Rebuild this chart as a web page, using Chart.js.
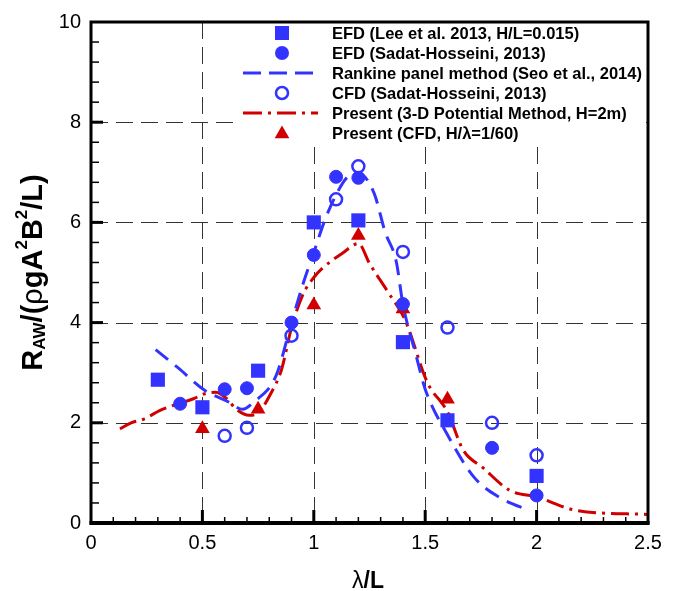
<!DOCTYPE html>
<html><head><meta charset="utf-8">
<script src="https://cdn.jsdelivr.net/npm/chart.js@4.4.0/dist/chart.umd.min.js"></script>
<style>html,body{margin:0;padding:0;background:#fff;}#wrap{width:692px;height:591px;}</style>
</head><body><div id="wrap"><canvas id="c" width="692" height="591"></canvas></div>
<script>
// ---- data ----
const xTickLabels = ['0','0.5','1','1.5','2','2.5'];
const yTickLabels = ['0','2','4','6','8','10'];

const legendLabels = [
  'EFD (Lee et al. 2013, H/L=0.015)',
  'EFD (Sadat-Hosseini, 2013)',
  'Rankine panel method (Seo et al., 2014)',
  'CFD (Sadat-Hosseini, 2013)',
  'Present (3-D Potential Method, H=2m)',
  'Present (CFD, H/\u03bb=1/60)'
];

const leeX = [0.3, 0.5, 0.75, 1.0, 1.2, 1.4, 1.6, 2.0];
const leeY = [2.86, 2.31, 3.04, 6.0, 6.04, 3.61, 2.05, 0.94];

const sadatEfdX = [0.4, 0.6, 0.7, 0.9, 1.0, 1.1, 1.2, 1.4, 1.8, 2.0];
const sadatEfdY = [2.38, 2.67, 2.69, 4.0, 5.35, 6.91, 6.89, 4.37, 1.50, 0.55];

const rankineX = [0.29, 0.39, 0.51, 0.62, 0.68, 0.74, 0.81, 0.84, 0.9, 0.95, 1.0, 1.05, 1.1, 1.15, 1.2, 1.27, 1.32, 1.37, 1.4, 1.46, 1.5, 1.6, 1.72, 1.83, 1.95, 1.97];
const rankineY = [3.46, 3.10, 2.65, 2.41, 2.27, 2.45, 2.76, 3.05, 4.0, 4.75, 5.4, 6.05, 6.55, 6.9, 6.98, 6.59, 5.81, 5.22, 4.37, 3.33, 2.67, 1.76, 0.91, 0.52, 0.28, 0.25];

const sadatCfdX = [0.6, 0.7, 0.9, 1.1, 1.2, 1.4, 1.6, 1.8, 2.0];
const sadatCfdY = [1.74, 1.90, 3.74, 6.46, 7.12, 5.41, 3.90, 2.0, 1.35];

const potentialX = [0.13, 0.18, 0.24, 0.31, 0.385, 0.46, 0.51, 0.56, 0.61, 0.65, 0.71, 0.75, 0.81, 0.855, 0.9, 0.95, 1.0, 1.04, 1.13, 1.2, 1.25, 1.33, 1.41, 1.51, 1.6, 1.67, 1.76, 1.88, 2.0, 2.18, 2.5];
const potentialY = [1.88, 2.0, 2.08, 2.25, 2.37, 2.48, 2.58, 2.61, 2.48, 2.28, 2.15, 2.2, 2.61, 3.06, 3.9, 4.55, 4.9, 5.09, 5.39, 5.58, 5.18, 4.63, 4.05, 2.8, 2.22, 1.46, 1.1, 0.65, 0.52, 0.25, 0.17];

const presentCfdX = [0.5, 0.75, 1.0, 1.2, 1.4, 1.6];
const presentCfdY = [1.88, 2.27, 4.35, 5.74, 4.27, 2.47];

const BLUE = '#3333ff';
const RED = '#d00000';

const pts = (xs, ys) => xs.map((x, i) => ({x: x, y: ys[i]}));

// ---- custom drawing of frame, ticks, legend, titles ----
const FONT = '"Liberation Sans", Arial, sans-serif';
const decor = {
  id: 'decor',
  beforeDatasetsDraw(chart) {
    const ctx = chart.ctx, a = chart.chartArea;
    const xs = chart.scales.x, ys = chart.scales.y;
    ctx.save();
    ctx.strokeStyle = '#333';
    ctx.lineWidth = 1;
    ctx.setLineDash([17, 8]);
    xs.ticks.forEach(t => {
      if (t.value <= xs.min || t.value >= xs.max) return;
      const px = Math.round(xs.getPixelForValue(t.value)) + 0.5;
      ctx.beginPath(); ctx.moveTo(px, a.top); ctx.lineTo(px, a.bottom); ctx.stroke();
    });
    ys.ticks.forEach(t => {
      if (t.value <= ys.min || t.value >= ys.max) return;
      const py = Math.round(ys.getPixelForValue(t.value)) + 0.5;
      ctx.beginPath(); ctx.moveTo(a.left, py); ctx.lineTo(a.right, py); ctx.stroke();
    });
    ctx.setLineDash([]);
    // legend background
    ctx.fillStyle = '#fff';
    ctx.fillRect(238, 17, 408, 125);
    ctx.restore();
  },
  afterDatasetsDraw(chart) {
    const ctx = chart.ctx, a = chart.chartArea;
    const xs = chart.scales.x, ys = chart.scales.y;
    ctx.save();
    ctx.strokeStyle = '#000';
    for (let i = 1; i < 25; i++) {
      const v = i / 10;
      const px = xs.getPixelForValue(v);
      const major = (i % 5 === 0);
      ctx.lineWidth = major ? 3 : 1.5;
      ctx.beginPath(); ctx.moveTo(px, a.bottom); ctx.lineTo(px, a.bottom - (major ? 13 : 6)); ctx.stroke();
    }
    for (let i = 1; i < 25; i++) {
      const v = i * 0.4;
      const py = ys.getPixelForValue(v);
      const major = (i % 5 === 0);
      ctx.lineWidth = major ? 3 : 1.5;
      ctx.beginPath(); ctx.moveTo(a.left, py); ctx.lineTo(a.left + (major ? 12 : 8), py); ctx.stroke();
    }
    ctx.lineWidth = 3;
    ctx.strokeRect(a.left, a.top, a.right - a.left, a.bottom - a.top);
    ctx.lineWidth = 4;
    ctx.beginPath(); ctx.moveTo(a.left - 1.5, a.bottom); ctx.lineTo(a.right + 1.5, a.bottom); ctx.stroke();

    // legend
    const ref = 'Rankine panel method (Seo et al., 2014)';
    ctx.font = 'bold 16px ' + FONT;
    const fs = 16 * 310 / ctx.measureText(ref).width;
    ctx.font = 'bold ' + fs.toFixed(2) + 'px ' + FONT;
    ctx.fillStyle = '#000';
    ctx.textBaseline = 'middle';
    ctx.textAlign = 'left';
    const rows = [33, 53, 73, 93, 113, 133];
    const sx = 282, tx = 332;
    legendLabels.forEach((l, i) => ctx.fillText(l, tx, rows[i] + 1));
    ctx.fillStyle = BLUE;
    ctx.fillRect(sx - 7, rows[0] - 7, 14, 14);
    ctx.beginPath(); ctx.arc(sx, rows[1], 7, 0, Math.PI * 2); ctx.fill();
    ctx.strokeStyle = BLUE; ctx.lineWidth = 3; ctx.setLineDash([18, 8]);
    ctx.beginPath(); ctx.moveTo(243, rows[2]); ctx.lineTo(318, rows[2]); ctx.stroke();
    ctx.setLineDash([]); ctx.lineWidth = 2.5;
    ctx.beginPath(); ctx.arc(sx, rows[3], 6, 0, Math.PI * 2); ctx.stroke();
    ctx.strokeStyle = RED; ctx.lineWidth = 3; ctx.setLineDash([19, 6, 3, 6]);
    ctx.beginPath(); ctx.moveTo(243, rows[4]); ctx.lineTo(318, rows[4]); ctx.stroke();
    ctx.setLineDash([]);
    ctx.fillStyle = RED;
    const r = 8.5, cy = rows[5] + 1;
    ctx.beginPath();
    ctx.moveTo(sx, cy - r);
    ctx.lineTo(sx + r * Math.sin(2 * Math.PI / 3), cy + r * 0.5);
    ctx.lineTo(sx - r * Math.sin(2 * Math.PI / 3), cy + r * 0.5);
    ctx.closePath(); ctx.fill();
    ctx.restore();
  },
  afterDraw(chart) {
    const ctx = chart.ctx, a = chart.chartArea;
    ctx.save();
    ctx.fillStyle = '#000';
    ctx.textBaseline = 'alphabetic';
    const F = 29, S = 17;
    const segs = [
      {t: 'R', f: 'bold ' + F + 'px ' + FONT, dy: 0},
      {t: 'AW', f: 'bold ' + S + 'px ' + FONT, dy: 3},
      {t: '/(', f: 'bold ' + F + 'px ' + FONT, dy: 0},
      {t: '\u03c1', f: F + 'px ' + FONT, dy: 0},
      {t: 'gA', f: 'bold ' + F + 'px ' + FONT, dy: 0},
      {t: '2', f: 'bold ' + S + 'px ' + FONT, dy: -15},
      {t: 'B', f: 'bold ' + F + 'px ' + FONT, dy: 0},
      {t: '2', f: 'bold ' + S + 'px ' + FONT, dy: -15},
      {t: '/L)', f: 'bold ' + F + 'px ' + FONT, dy: 0}
    ];
    let total = 0;
    segs.forEach(s => { ctx.font = s.f; s.w = ctx.measureText(s.t).width; total += s.w; });
    ctx.translate(42, (a.top + a.bottom) / 2);
    ctx.rotate(-Math.PI / 2);
    let x = -total / 2;
    ctx.textAlign = 'left';
    segs.forEach(s => { ctx.font = s.f; ctx.fillText(s.t, x, s.dy); x += s.w; });
    ctx.setTransform(1, 0, 0, 1, 0, 0);
    const xs1 = {t: '\u03bb', f: '23px ' + FONT};
    const xs2 = {t: '/L', f: 'bold 23px ' + FONT};
    ctx.font = xs1.f; const w1 = ctx.measureText(xs1.t).width;
    ctx.font = xs2.f; const w2 = ctx.measureText(xs2.t).width;
    let sx0 = 368 - (w1 + w2) / 2;
    ctx.font = xs1.f; ctx.fillText(xs1.t, sx0, 588);
    ctx.font = xs2.f; ctx.fillText(xs2.t, sx0 + w1, 588);
    ctx.restore();
  }
};

new Chart(document.getElementById('c'), {
  type: 'scatter',
  data: {
    datasets: [
      {label: legendLabels[0], data: pts(leeX, leeY), pointStyle: 'rect', pointRadius: 10,
       backgroundColor: BLUE, borderColor: BLUE, borderWidth: 0, showLine: false, order: 0},
      {label: legendLabels[1], data: pts(sadatEfdX, sadatEfdY), pointStyle: 'circle', pointRadius: 6.5,
       backgroundColor: BLUE, borderColor: BLUE, borderWidth: 1, showLine: false, order: 0},
      {label: legendLabels[2], data: pts(rankineX, rankineY), showLine: true, pointRadius: 0,
       borderColor: BLUE, borderWidth: 3, borderDash: [16, 9], cubicInterpolationMode: 'monotone', fill: false, order: 1},
      {label: legendLabels[3], data: pts(sadatCfdX, sadatCfdY), pointStyle: 'circle', pointRadius: 6,
       backgroundColor: 'rgba(0,0,0,0)', borderColor: BLUE, borderWidth: 2.5, showLine: false, order: 0},
      {label: legendLabels[4], data: pts(potentialX, potentialY), showLine: true, pointRadius: 0,
       borderColor: RED, borderWidth: 3, borderDash: [18, 6, 3, 6], cubicInterpolationMode: 'monotone', fill: false, order: 1},
      {label: legendLabels[5], data: pts(presentCfdX, presentCfdY), pointStyle: 'triangle', pointRadius: 8.5,
       backgroundColor: RED, borderColor: RED, borderWidth: 0, showLine: false, order: 0}
    ]
  },
  options: {
    responsive: false,
    animation: false,
    devicePixelRatio: 1,
    layout: {padding: {left: 0, top: 13, right: 44, bottom: 0}},
    plugins: {legend: {display: false}, tooltip: {enabled: false}},
    scales: {
      x: {
        type: 'linear', min: 0, max: 2.5,
        ticks: {stepSize: 0.5, padding: 8, color: '#000', font: {family: FONT, size: 20},
                maxRotation: 0, callback: (v, i) => xTickLabels[i]},
        grid: {display: false, drawTicks: false, tickLength: 0},
        border: {display: false},
        afterFit: s => { s.height = 68; }
      },
      y: {
        type: 'linear', min: 0, max: 10,
        ticks: {stepSize: 2, padding: 10, color: '#000', font: {family: FONT, size: 20},
                callback: (v, i) => yTickLabels[i]},
        grid: {display: false, drawTicks: false, tickLength: 0},
        border: {display: false},
        afterFit: s => { s.width = 91; }
      }
    }
  },
  plugins: [decor]
});
</script></body></html>
